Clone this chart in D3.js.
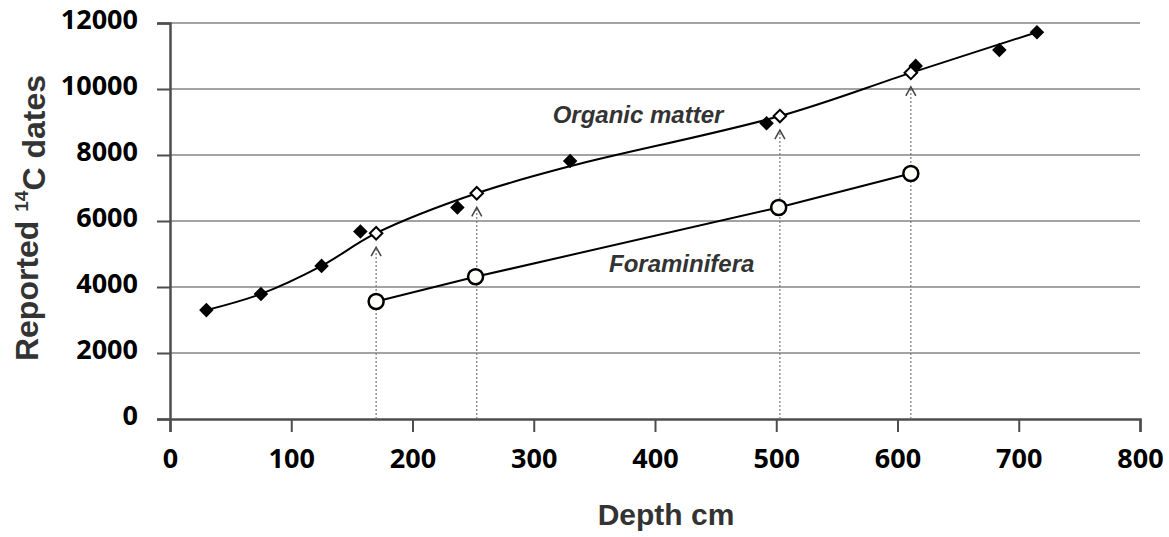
<!DOCTYPE html>
<html>
<head>
<meta charset="utf-8">
<script src="https://cdn.jsdelivr.net/npm/d3@7"></script>
<style>
  body { margin: 0; background: #fff; }
  svg { display: block; }
</style>
</head>
<body>
<script>
// chart size
let w = 1169;
let h = 537;

// organic matter dates (filled diamonds)
let omDepth = [30, 75, 125, 157, 237, 330, 492, 615, 684, 715];
let omDate  = [3300, 3790, 4640, 5680, 6410, 7820, 8960, 10700, 11180, 11720];

// organic matter dates at the foraminifera depths (open diamonds)
let omOpenDepth = [170, 253, 503, 611];
let omOpenDate  = [5630, 6840, 9180, 10490];

// foraminifera dates (open circles)
let foramDepth = [170, 252, 502, 611];
let foramDate  = [3560, 4310, 6410, 7440];

// smoothed trend drawn through the organic matter dates
let trendDepth = [30, 75, 125, 170, 253, 330, 503, 611, 715];
let trendDate  = [3300, 3790, 4640, 5630, 6840, 7660, 9180, 10490, 11720];

// tick labels
let xTicks = [0, 100, 200, 300, 400, 500, 600, 700, 800];
let yTicks = [0, 2000, 4000, 6000, 8000, 10000, 12000];

// series labels
let labelText  = ["Organic matter", "Foraminifera"];
let labelDepth = [386, 422];
let labelDate  = [8970, 4460];

let margin = { top: 23, right: 29, bottom: 118, left: 170 };

let x = d3.scaleLinear().domain([0, 800]).range([margin.left, w - margin.right]);
let y = d3.scaleLinear().domain([0, 12000]).range([h - margin.bottom, margin.top]);

let svg = d3.select("body")
  .append("svg")
  .attr("width", w)
  .attr("height", h);

// horizontal gridlines
svg.append("g")
  .selectAll("line")
  .data(yTicks.filter(function(d) { return d > 0; }))
  .enter()
  .append("line")
  .attr("x1", x(0))
  .attr("x2", x(800))
  .attr("y1", function(d) { return y(d); })
  .attr("y2", function(d) { return y(d); })
  .style("stroke", "#a3a3a3")
  .style("stroke-width", 2);

// axes
let xAxis = svg.append("g")
  .attr("transform", "translate(0," + y(0) + ")")
  .call(d3.axisBottom(x).tickValues(xTicks).tickSize(13).tickPadding(17).tickFormat(d3.format("d")));

let yAxis = svg.append("g")
  .attr("transform", "translate(" + x(0) + ",0)")
  .call(d3.axisLeft(y).tickValues(yTicks).tickSize(13).tickPadding(19).tickFormat(d3.format("d")));

[xAxis, yAxis].forEach(function(a) {
  a.select(".domain").style("stroke", "#4d4d4d").style("stroke-width", 2.5);
  a.selectAll(".tick line").style("stroke", "#4d4d4d").style("stroke-width", 2);
  a.selectAll(".tick text")
    .style("font-family", "'Open Sans', sans-serif")
    .style("font-weight", 700)
    .style("font-size", "27px")
    .style("fill", "#000");
});
yAxis.selectAll(".tick text").attr("dy", "0.22em");
xAxis.selectAll(".tick text").attr("dy", "0.71em");

// dotted guides from the axis up to the organic matter dates
let guides = svg.append("g");
omOpenDepth.forEach(function(d, i) {
  let gx = x(d);
  let tip = y(omOpenDate[i]) + 14;
  guides.append("line")
    .attr("x1", gx).attr("x2", gx)
    .attr("y1", y(0)).attr("y2", tip + 2)
    .style("stroke", "#777")
    .style("stroke-width", 1.2)
    .style("stroke-dasharray", "2,2");
  guides.append("path")
    .attr("d", "M" + (gx - 5) + "," + (tip + 9) + "L" + gx + "," + tip + "L" + (gx + 5) + "," + (tip + 9))
    .style("fill", "none")
    .style("stroke", "#444")
    .style("stroke-width", 1.5);
});

// lines
let trend = d3.line()
  .x(function(d, i) { return x(trendDepth[i]); })
  .y(function(d, i) { return y(trendDate[i]); })
  .curve(d3.curveCatmullRom.alpha(0.5));

svg.append("path")
  .attr("d", trend(trendDepth))
  .style("fill", "none")
  .style("stroke", "#000")
  .style("stroke-width", 2);

let foramLine = d3.line()
  .x(function(d, i) { return x(foramDepth[i]); })
  .y(function(d, i) { return y(foramDate[i]); });

svg.append("path")
  .attr("d", foramLine(foramDepth))
  .style("fill", "none")
  .style("stroke", "#000")
  .style("stroke-width", 2);

// markers
svg.append("g")
  .selectAll("path")
  .data(omDepth)
  .enter()
  .append("path")
  .attr("d", d3.symbol().type(d3.symbolDiamond2).size(135))
  .attr("transform", function(d, i) { return "translate(" + x(d) + "," + y(omDate[i]) + ")"; })
  .style("fill", "#000");

svg.append("g")
  .selectAll("path")
  .data(omOpenDepth)
  .enter()
  .append("path")
  .attr("d", d3.symbol().type(d3.symbolDiamond2).size(100))
  .attr("transform", function(d, i) { return "translate(" + x(d) + "," + y(omOpenDate[i]) + ")"; })
  .style("fill", "#fff")
  .style("stroke", "#000")
  .style("stroke-width", 2);

svg.append("g")
  .selectAll("circle")
  .data(foramDepth)
  .enter()
  .append("circle")
  .attr("cx", function(d) { return x(d); })
  .attr("cy", function(d, i) { return y(foramDate[i]); })
  .attr("r", 7.5)
  .style("fill", "#fffffa")
  .style("stroke", "#000")
  .style("stroke-width", 2.5);

// series labels
svg.append("g")
  .selectAll("text")
  .data(labelText)
  .enter()
  .append("text")
  .attr("x", function(d, i) { return x(labelDepth[i]); })
  .attr("y", function(d, i) { return y(labelDate[i]); })
  .attr("text-anchor", "middle")
  .style("font-family", "'Liberation Sans', Arial, sans-serif")
  .style("font-weight", 700)
  .style("font-style", "italic")
  .style("font-size", "24px")
  .style("fill", "#333")
  .text(function(d) { return d; });

// axis titles
svg.append("text")
  .attr("x", 666)
  .attr("y", 525)
  .attr("text-anchor", "middle")
  .style("font-family", "'Liberation Sans', Arial, sans-serif")
  .style("font-weight", 700)
  .style("font-size", "30px")
  .style("fill", "#333")
  .text("Depth cm");

let yTitle = svg.append("text")
  .attr("transform", "translate(38,218) rotate(-90)")
  .attr("text-anchor", "middle")
  .style("font-family", "'Liberation Sans', Arial, sans-serif")
  .style("font-weight", 700)
  .style("font-size", "32px")
  .style("fill", "#333");
yTitle.append("tspan").text("Reported ");
yTitle.append("tspan").attr("dy", "-0.55em").style("font-size", "19px").text("14");
yTitle.append("tspan").attr("dy", "0.55em").text("C dates");
</script>
</body>
</html>
